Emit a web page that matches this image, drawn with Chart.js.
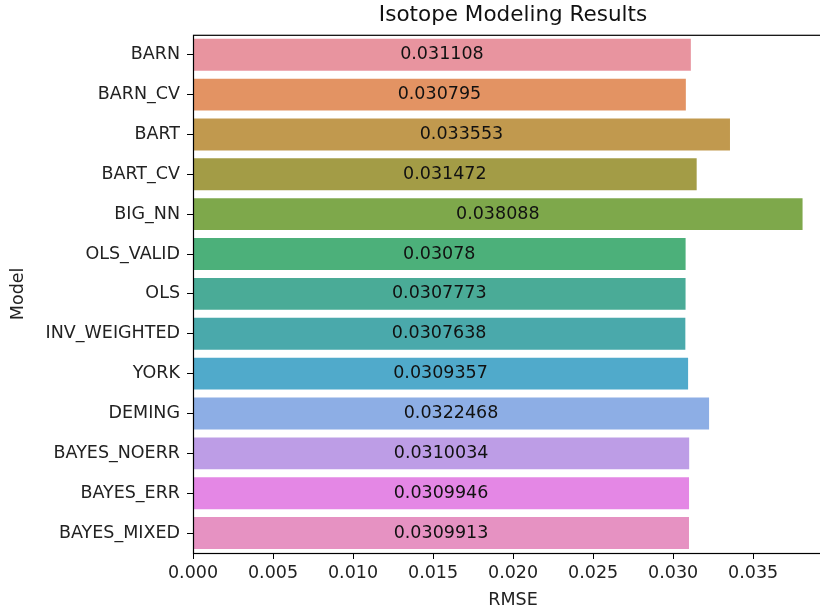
<!DOCTYPE html>
<html>
<head>
<meta charset="utf-8">
<script src="https://cdn.jsdelivr.net/npm/chart.js@4"></script>
<style>
  html, body { margin: 0; padding: 0; background: #fff; overflow: hidden; }
  #wrap { width: 850px; height: 611px; }
</style>
</head>
<body>
<div id="wrap"><canvas id="rmseChart"></canvas></div>
<script>
const models = ["BARN", "BARN_CV", "BART", "BART_CV", "BIG_NN", "OLS_VALID", "OLS",
    "INV_WEIGHTED", "YORK", "DEMING", "BAYES_NOERR", "BAYES_ERR", "BAYES_MIXED"];
const rmse = [0.031108, 0.030795, 0.033553, 0.031472, 0.038088, 0.03078, 0.0307773,
    0.0307638, 0.0309357, 0.0322468, 0.0310034, 0.0309946, 0.0309913];
const barLabels = ["0.031108", "0.030795", "0.033553", "0.031472", "0.038088", "0.03078", "0.0307773",
    "0.0307638", "0.0309357", "0.0322468", "0.0310034", "0.0309946", "0.0309913"];
const colors = ["#e8949f", "#e39363", "#c1994e", "#a39c46", "#7ea84b", "#4cb07a", "#4aab97",
    "#4aa9ab", "#50aacb", "#8daee5", "#bd9de6", "#e487e5", "#e692c2"];
const xTicks = [0, 0.005, 0.010, 0.015, 0.020, 0.025, 0.030, 0.035];

const FONT = "'DejaVu Sans', sans-serif";

// rectangle round the plot, like the matplotlib spines
const frame = {
    id: "frame",
    afterDatasetsDraw(chart) {
        const { ctx, chartArea: a } = chart;
        ctx.save();
        ctx.strokeStyle = "#000";
        ctx.lineWidth = 1.2;
        ctx.strokeRect(a.left + 0.5, a.top + 0.5, a.right - a.left, a.bottom - a.top);
        ctx.restore();
    }
};

// value text in the middle of each bar
const centreLabels = {
    id: "centreLabels",
    afterDatasetsDraw(chart) {
        const { ctx, scales } = chart;
        ctx.save();
        ctx.font = "17.5px " + FONT;
        ctx.fillStyle = "#111";
        ctx.textAlign = "center";
        ctx.textBaseline = "middle";
        rmse.forEach((v, i) => {
            const x = scales.x.getPixelForValue(v / 2);
            const y = scales.y.getPixelForValue(i);
            ctx.fillText(barLabels[i], x, y);
        });
        ctx.restore();
    }
};

new Chart(document.getElementById("rmseChart"), {
    type: "bar",
    data: {
        labels: models,
        datasets: [{
            data: rmse,
            backgroundColor: colors,
            borderWidth: 0,
            categoryPercentage: 1,
            barPercentage: 0.8
        }]
    },
    options: {
        indexAxis: "y",
        responsive: true,
        maintainAspectRatio: false,
        animation: false,
        layout: { padding: { left: 0, right: 17, top: 0, bottom: 0 } },
        plugins: {
            legend: { display: false },
            tooltip: { enabled: false },
            title: {
                display: true,
                text: "Isotope Modeling Results",
                color: "#111",
                font: { family: FONT, size: 21.5, weight: "normal" },
                padding: { top: 3, bottom: 6 },
                align: "center",
                fullSize: false
            }
        },
        scales: {
            x: {
                min: 0,
                max: 0.03999,
                afterBuildTicks(scale) {
                    scale.ticks = xTicks.map(v => ({ value: v }));
                },
                afterFit(scale) { scale.height = 58; },
                grid: { drawOnChartArea: false, drawTicks: true, tickLength: 6, color: "#000" },
                border: { display: false },
                ticks: {
                    color: "#222",
                    padding: 4,
                    font: { family: FONT, size: 17.5 },
                    maxRotation: 0,
                    callback: v => Number(v).toFixed(3)
                },
                title: {
                    display: true,
                    text: "RMSE",
                    color: "#222",
                    font: { family: FONT, size: 17.5 },
                    padding: { top: 0, bottom: 0 }
                }
            },
            y: {
                afterFit(scale) { scale.width = 193; },
                grid: { drawOnChartArea: false, drawTicks: true, tickLength: 6, color: "#000", offset: false },
                border: { display: false },
                ticks: {
                    color: "#222",
                    padding: 7,
                    font: { family: FONT, size: 17.5 }
                },
                title: {
                    display: true,
                    text: "Model",
                    color: "#222",
                    font: { family: FONT, size: 17.5 },
                    padding: { top: 8, bottom: 0 }
                }
            }
        }
    },
    plugins: [frame, centreLabels]
});
</script>
</body>
</html>
